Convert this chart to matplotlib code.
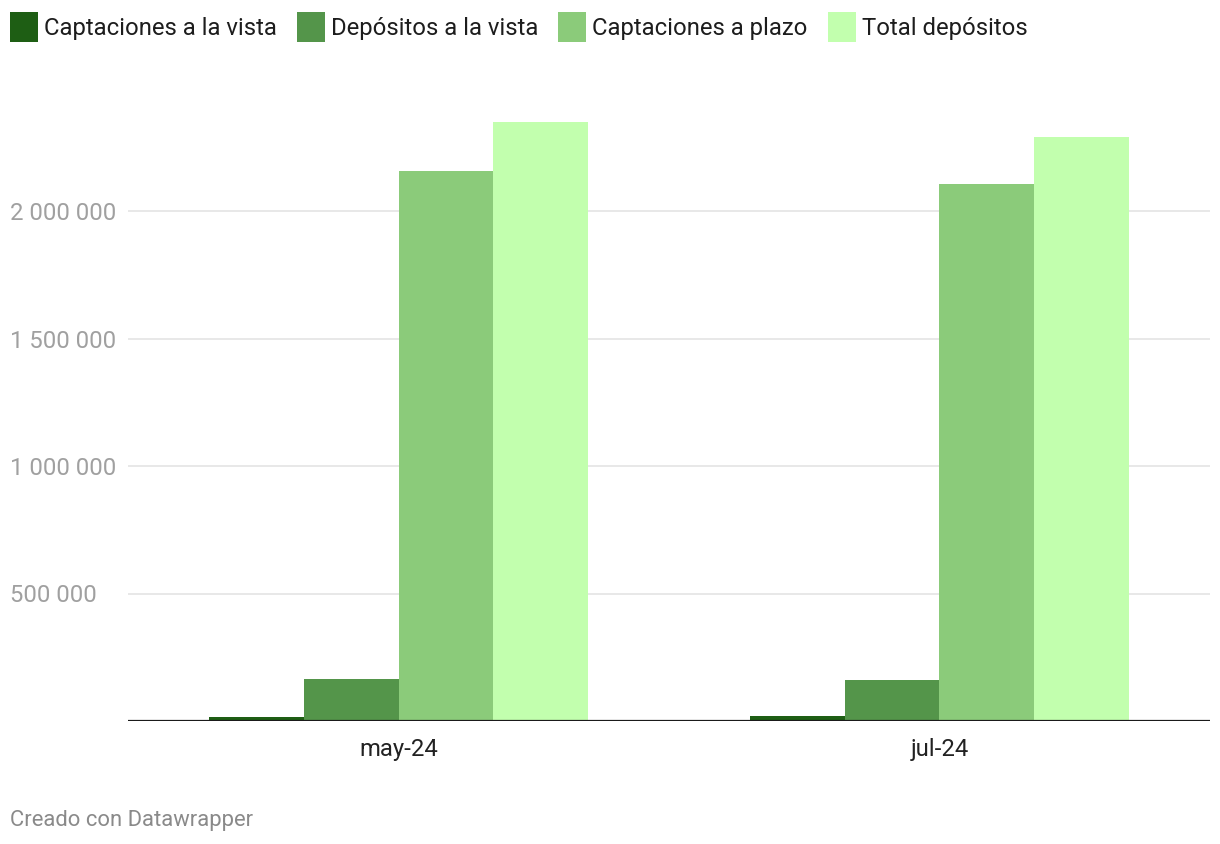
import matplotlib
matplotlib.use("Agg")
import matplotlib.pyplot as plt
import matplotlib.transforms as mtransforms
from matplotlib.patches import Rectangle
import numpy as np

plt.rcParams['font.family'] = ['Roboto', 'DejaVu Sans']

categories = ["may-24", "jul-24"]
series_names = ["Captaciones a la vista", "Depósitos a la vista",
                "Captaciones a plazo", "Total depósitos"]
values = {
    "Captaciones a la vista": [14000, 18000],
    "Depósitos a la vista": [166000, 159000],
    "Captaciones a plazo": [2157000, 2106000],
    "Total depósitos": [2349000, 2290000],
}
colors = ["#1e5e14", "#54954a", "#8bcb7a", "#c2ffae"]
yticks = [500000, 1000000, 1500000, 2000000]

W, H = 1220, 844
fig = plt.figure(figsize=(W / 100, H / 100), dpi=100)

def px(x, y):
    # pixel from top-left -> figure fraction
    return x / W, 1 - y / H

ax_left, ax_right, ax_bottom, ax_top = 128, 1210, 721, 100
ax = fig.add_axes([ax_left / W, 1 - ax_bottom / H, (ax_right - ax_left) / W,
                   (ax_bottom - ax_top) / H])
ymax = (ax_bottom - ax_top) / 255.0 * 1e6
ax.set_ylim(0, ymax)
ax.set_xlim(-0.5, len(categories) - 0.5)

x = np.arange(len(categories))
bw = 0.7 / len(series_names)
for i, name in enumerate(series_names):
    ax.bar(x + (i - 1.5) * bw, values[name], width=bw, color=colors[i], zorder=2)

for s in ax.spines.values():
    s.set_visible(False)
ax.set_yticks(yticks)
ax.set_yticklabels([])
ax.tick_params(axis='y', length=0)
ax.grid(axis='y', color='#e2e2e2', lw=1.1, zorder=0)
ax.axhline(0, color='#1a1a1a', lw=1.6, zorder=3)

ax.set_xticks(x)
ax.set_xticklabels(categories, fontsize=17.2, color='#222222')
ax.tick_params(axis='x', length=0, pad=12)

# y labels, left aligned at the figure edge
trans = mtransforms.blended_transform_factory(fig.transFigure, ax.transData)
for t in yticks:
    lab = f"{t:,}".replace(",", " ")
    fig.text(10 / W, t, lab, transform=trans, ha='left', va='center_baseline',
             fontsize=17.2, color='#a0a0a0')

# legend
fig.canvas.draw()
renderer = fig.canvas.get_renderer()
lx = 10
for i, name in enumerate(series_names):
    fx, fy = px(lx, 42)
    fig.patches.append(Rectangle((fx, fy), 28 / W, 30 / H, transform=fig.transFigure,
                                 facecolor=colors[i], edgecolor='none'))
    tx, ty = px(lx + 34, 25.5)
    t = fig.text(tx, ty, name, ha='left', va='center_baseline', fontsize=17.2,
                 color='#1d1d1d')
    bb = t.get_window_extent(renderer)
    lx = bb.x1 + 20

fx, fy = px(10, 818)
fig.text(fx, fy, "Creado con Datawrapper", ha='left', va='center_baseline',
         fontsize=15.8, color='#8a8a8a')

fig.savefig("out.png", dpi=100)
